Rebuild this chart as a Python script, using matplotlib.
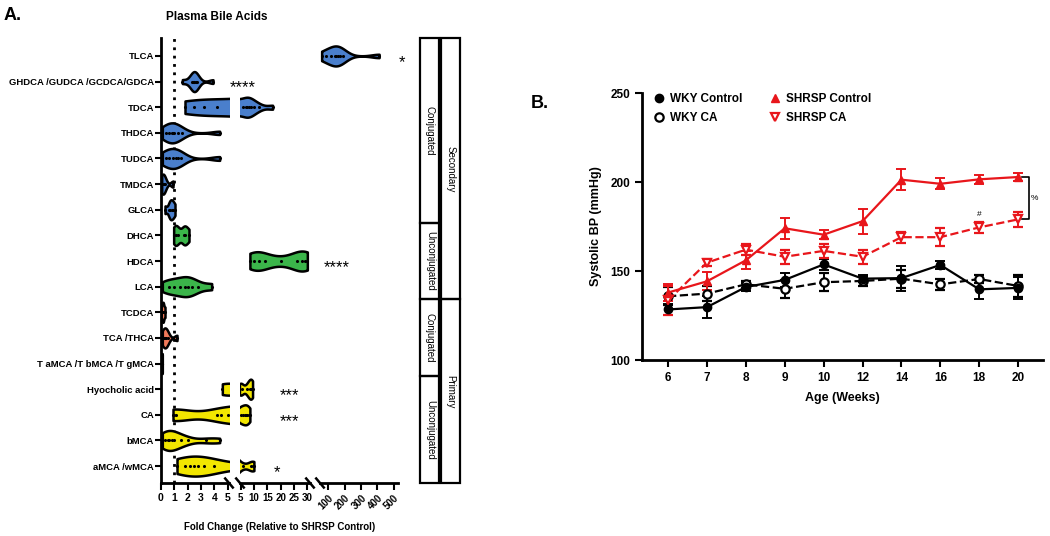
import matplotlib.pyplot as plt
import numpy as np
from matplotlib.lines import Line2D
from matplotlib.patches import Rectangle
from matplotlib.transforms import blended_transform_factory

plt.rcParams['font.family'] = ['Liberation Sans', 'DejaVu Sans']

# ---------------- Panel A: plasma bile acids (fold change) ----------------
acids = ["TLCA", "GHDCA /GUDCA /GCDCA/GDCA", "TDCA", "THDCA", "TUDCA", "TMDCA", "GLCA",
         "DHCA", "HDCA", "LCA",
         "TCDCA", "TCA /THCA", "T aMCA /T bMCA /T gMCA",
         "Hyocholic acid", "CA", "bMCA", "aMCA /wMCA"]

fold_values = [
    [60, 85, 120, 140, 150, 160, 170, 190, 410],      # TLCA
    [1.6, 2.3, 2.4, 2.5, 2.5, 2.6, 2.7, 3.9],         # GHDCA group
    [1.8, 2.5, 3.2, 4.2, 6.0, 7.0, 7.5, 8.0, 9.0, 10.0, 12.0, 17.0],  # TDCA
    [0.1, 0.4, 0.6, 0.8, 0.9, 1.0, 1.3, 1.6, 4.4],    # THDCA
    [0.1, 0.4, 0.6, 0.9, 1.1, 1.3, 1.5, 4.4],         # TUDCA
    [0.05, 0.1, 0.2, 0.3, 0.9],                       # TMDCA
    [0.3, 0.6, 0.7, 0.8, 0.9, 1.05],                  # GLCA
    [0.95, 1.1, 1.3, 1.7, 1.8, 2.1],                  # DHCA
    [8.5, 10, 12, 14, 20, 26, 28, 29, 30],            # HDCA
    [0.1, 0.6, 1.0, 1.4, 1.8, 2.0, 2.3, 2.8, 3.8],    # LCA
    [0.02, 0.1, 0.15, 0.2, 0.3],                      # TCDCA
    [0.1, 0.2, 0.3, 0.4, 0.5, 1.2],                   # TCA/THCA
    [0.02, 0.05, 0.08, 0.1],                          # TaMCA group
    [4.6, 5.5, 7.5, 8.5, 9.0, 9.5],                   # Hyocholic acid
    [0.9, 1.0, 1.1, 4.2, 4.5, 5.0, 6.0, 6.5, 7.0, 7.5, 8.0, 8.5],  # CA
    [0.1, 0.3, 0.5, 0.6, 0.8, 1.0, 1.5, 2.0, 3.4, 4.4],       # bMCA
    [1.2, 1.8, 2.2, 2.5, 2.8, 3.2, 4.0, 6.0, 9.0, 9.5, 10.0], # aMCA/wMCA
]
significance = ["*", "****", "", "", "", "", "", "", "****", "", "", "", "", "***", "***", "", "*"]

group_sizes = [7, 3, 3, 4]
group_names = ["Conjugated", "Unconjugated", "Conjugated", "Unconjugated"]
class_sizes = [10, 7]
class_names = ["Secondary", "Primary"]

seg_limits = [(0, 5.1), (4.8, 31), (50, 525)]
seg_ticks = [[0, 1, 2, 3, 4, 5], [5, 10, 15, 20, 25, 30], [100, 200, 300, 400, 500]]

# ---------------- Panel B: systolic blood pressure ----------------
weeks = ["6", "7", "8", "9", "10", "12", "14", "16", "18", "20"]
wky_ctrl = [128.4, 129.7, 141.0, 145.0, 153.7, 145.7, 146.0, 153.4, 139.7, 140.5]
wky_ctrl_err = [3, 6, 2, 4, 3, 2, 7, 2, 5.5, 6]
wky_ca = [135.8, 137.3, 142.5, 140.0, 143.7, 144.4, 145.7, 142.5, 145.5, 141.6]
wky_ca_err = [5, 4, 2, 5, 5, 3, 5, 3, 2, 6]
shrsp_ctrl = [137.9, 144.2, 156.0, 174.0, 170.4, 178.0, 201.3, 199.0, 201.5, 202.8]
shrsp_ctrl_err = [5, 5, 5, 6, 2.5, 7, 6, 3, 2.5, 2.5]
shrsp_ca = [133.5, 154.7, 162.0, 158.0, 161.3, 158.0, 169.0, 169.0, 174.5, 179.0]
shrsp_ca_err = [8, 2, 3, 4, 4, 4, 3, 5, 3, 4]

# ---------------- styles ----------------
BLUE, GREEN, SALMON, YELLOW = '#4a7fcc', '#3bb54a', '#f07a5a', '#f2e600'
acid_colors = [BLUE] * 7 + [GREEN] * 3 + [SALMON] * 3 + [YELLOW] * 4
RED = '#e8161b'

W, H = 1050, 536
fig = plt.figure(figsize=(W / 100, H / 100), dpi=100)


def fx(px):
    return px / W


def fy(py):
    return 1 - py / H


n = len(acids)
ypos = np.arange(n)[::-1]
ylim = (-0.66, n - 1 + 0.7)

ax_bot, ax_top = fy(483), fy(38)
seg_px = [(161, 229), (240, 310), (320, 398)]
segs = []
for i, (x0, x1) in enumerate(seg_px):
    ax = fig.add_axes([fx(x0), ax_bot, fx(x1 - x0), ax_top - ax_bot])
    segs.append(ax)
    lo, hi = seg_limits[i]
    parts = ax.violinplot(fold_values, positions=ypos, orientation='horizontal',
                          widths=0.78, showextrema=False, bw_method=0.45)
    for body, c in zip(parts['bodies'], acid_colors):
        body.set_facecolor(c)
        body.set_edgecolor('black')
        body.set_linewidth(1.8)
        body.set_joinstyle('round')
        body.set_alpha(1)
        xs = body.get_paths()[0].vertices[:, 0]
        if xs.max() < lo or xs.min() > hi:
            body.set_visible(False)   # this violin lies in another segment
    for y, vals in zip(ypos, fold_values):
        vals = np.asarray(vals)
        vals = vals[(vals > lo) & (vals < hi)]
        ax.scatter(vals, [y] * len(vals), s=1.5, color='black', zorder=3)
    ax.set_xlim(lo, hi)
    ax.set_ylim(*ylim)
    ax.set_xticks(seg_ticks[i])
    for side in ['top', 'right']:
        ax.spines[side].set_visible(False)
    ax.spines['bottom'].set_linewidth(2)
    ax.tick_params(axis='x', length=5, width=1.5, labelsize=7.5, pad=2)
    for lbl in ax.get_xticklabels():
        lbl.set_fontweight('bold')
    if i == 0:
        ax.spines['left'].set_linewidth(2)
        ax.set_yticks(ypos)
        ax.set_yticklabels(acids, fontsize=6.8, fontweight='bold')
        ax.tick_params(axis='y', length=4, width=1.5, pad=1)
        ax.axvline(1, color='black', lw=2, ls=(0, (1, 2)), zorder=0)
    else:
        ax.spines['left'].set_visible(False)
        ax.set_yticks([])
    if i == 1:
        ax.tick_params(axis='x', labelsize=7)
    if i == 2:
        for lbl in ax.get_xticklabels():
            lbl.set_rotation(45)
            lbl.set_ha('right')
            lbl.set_rotation_mode('anchor')
            lbl.set_fontsize(7)

# break marks on the x axis
dx, dy = fx(3.8), 4.5 / H
for ax in segs:
    p = ax.get_position()
    for xe in ([p.x1] if ax is segs[0] else [p.x0, p.x1] if ax is segs[1] else [p.x0]):
        fig.add_artist(Line2D([xe - dx, xe + dx], [p.y0 + dy, p.y0 - dy],
                              color='black', lw=1.8, transform=fig.transFigure))

# significance stars
star_tr = blended_transform_factory(fig.transFigure, segs[0].transData)
star_px = {0: 402, 1: 243, 8: 337, 13: 289, 14: 289, 16: 277}
for idx, xp in star_px.items():
    fig.text(fx(xp), ypos[idx] - 0.25, significance[idx], transform=star_tr,
             ha='center', va='center', fontsize=12)

fig.text(fx(217), fy(17), "Plasma Bile Acids", ha='center', va='center',
         fontsize=8.5, fontweight='bold')
fig.text(fx(4), fy(15), "A.", ha='left', va='center', fontsize=13, fontweight='bold')
fig.text(fx(280), fy(527), "Fold Change (Relative to SHRSP Control)", ha='center',
         va='center', fontsize=7, fontweight='bold')

# group boxes
axb = fig.add_axes([fx(420), ax_bot, fx(40), ax_top - ax_bot])
axb.set_xlim(0, 2)
axb.set_ylim(*ylim)
axb.axis('off')
top = ylim[1]
start = 0
for size, name in zip(group_sizes, group_names):
    y_hi = top if start == 0 else ypos[start] + 0.5
    y_lo = ylim[0] if start + size == n else ypos[start + size - 1] - 0.5
    axb.add_patch(Rectangle((0.02, y_lo), 0.93, y_hi - y_lo, fill=False, lw=1.6, clip_on=False))
    axb.text(0.49, (y_lo + y_hi) / 2, name, rotation=270, ha='center', va='center', fontsize=7)
    start += size
start = 0
for size, name in zip(class_sizes, class_names):
    y_hi = top if start == 0 else ypos[start] + 0.5
    y_lo = ylim[0] if start + size == n else ypos[start + size - 1] - 0.5
    axb.add_patch(Rectangle((1.05, y_lo), 0.93, y_hi - y_lo, fill=False, lw=1.6, clip_on=False))
    axb.text(1.52, (y_lo + y_hi) / 2, name, rotation=270, ha='center', va='center', fontsize=7)
    start += size

# ---------------- Panel B ----------------
axB = fig.add_axes([fx(642), fy(360), fx(1043 - 642), fy(93) - fy(360)])
x = np.arange(len(weeks))
eb = dict(capsize=3.5, elinewidth=1.4, capthick=1.4, lw=1.6, ms=6)
axB.errorbar(x, wky_ca, yerr=wky_ca_err, color='black', ls='--', marker='o',
             mfc='white', mew=1.6, **eb)
axB.errorbar(x, wky_ctrl, yerr=wky_ctrl_err, color='black', ls='-', marker='o', **eb)
axB.errorbar(x, shrsp_ca, yerr=shrsp_ca_err, color=RED, ls='--', marker='v',
             mfc='white', mew=1.6, **eb)
axB.errorbar(x, shrsp_ctrl, yerr=shrsp_ctrl_err, color=RED, ls='-', marker='^', **eb)

axB.set_xlim(-0.67, 9.64)
axB.set_ylim(100, 250)
axB.set_yticks([100, 150, 200, 250])
axB.set_xticks(x)
axB.set_xticklabels(weeks)
for side in ['top', 'right']:
    axB.spines[side].set_visible(False)
for side in ['left', 'bottom']:
    axB.spines[side].set_linewidth(2)
axB.tick_params(length=5, width=1.5, labelsize=8.5)
for lbl in axB.get_xticklabels() + axB.get_yticklabels():
    lbl.set_fontweight('bold')
axB.set_xlabel("Age (Weeks)", fontsize=9, fontweight='bold', labelpad=6)
axB.set_ylabel("Systolic BP (mmHg)", fontsize=9, fontweight='bold', labelpad=6)

# bracket and markers of significance
axB.plot([9.1, 9.28, 9.28, 9.1], [shrsp_ctrl[-1], shrsp_ctrl[-1], shrsp_ca[-1], shrsp_ca[-1]],
         color='black', lw=1.2, clip_on=False)
axB.text(9.42, (shrsp_ctrl[-1] + shrsp_ca[-1]) / 2, "%", fontsize=6, ha='center', va='center')
axB.text(8, shrsp_ca[-2] + shrsp_ca_err[-2] + 4, "#", fontsize=6, ha='center', va='center')

handles = [
    Line2D([], [], color='black', marker='o', ls='none', ms=6),
    Line2D([], [], color='black', marker='o', mfc='white', mew=1.6, ls='none', ms=6),
    Line2D([], [], color=RED, marker='^', ls='none', ms=6),
    Line2D([], [], color=RED, marker='v', mfc='white', mew=1.6, ls='none', ms=6),
]
labels = ["WKY Control", "WKY CA", "SHRSP Control", "SHRSP CA"]
axB.legend(handles, labels, ncol=2, loc='upper left', bbox_to_anchor=(0.0, 1.04),
           frameon=False, handlelength=1.0, handletextpad=0.5, columnspacing=2.2,
           labelspacing=0.6, prop={'weight': 'bold', 'size': 8.5})

fig.text(fx(531), fy(103), "B.", ha='left', va='center', fontsize=13, fontweight='bold')

fig.savefig("out.png", dpi=100)
